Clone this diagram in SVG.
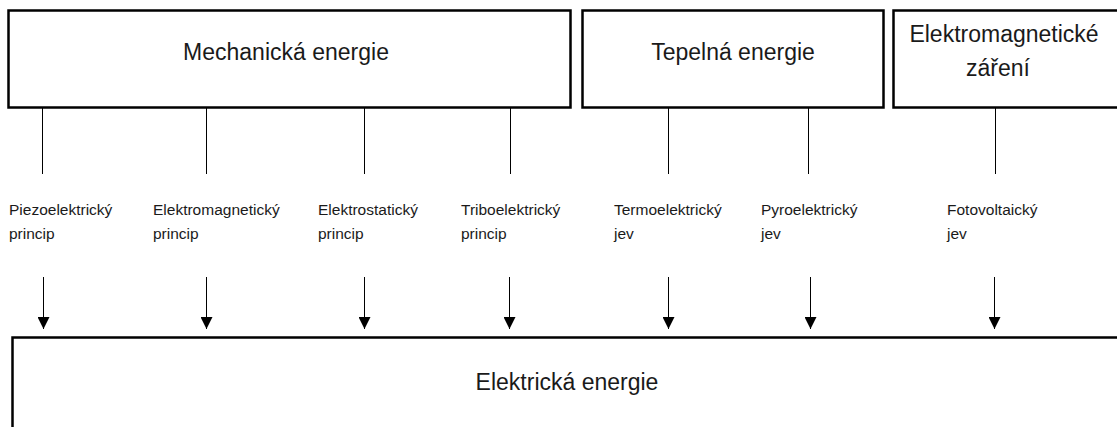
<svg xmlns="http://www.w3.org/2000/svg" width="1117" height="427" viewBox="0 0 1117 427">
<style>
.box{fill:#fff;stroke:#000;stroke-width:2.5}
.title{font-family:"Liberation Sans",Arial,sans-serif;font-size:23px;fill:#1a1a1a;text-anchor:middle}
.lbl{font-family:"Liberation Sans",Arial,sans-serif;font-size:15.5px;fill:#1a1a1a}
.ln{stroke:#000;stroke-width:1;fill:none}
</style>
<defs>
<marker id="ah" viewBox="0 0 12 12" refX="12" refY="6" markerWidth="12" markerHeight="12" markerUnits="userSpaceOnUse" orient="auto">
<path d="M0,0 L12,6 L0,12 Z" fill="#000"/>
</marker>
</defs>
<rect width="1117" height="427" fill="#fff"/>
<g id="mechanicka">
<rect class="box" x="8.5" y="10.5" width="562" height="97"/>
<text class="title" x="286" y="60">Mechanická energie</text>
</g>
<g id="tepelna">
<rect class="box" x="582.5" y="10.5" width="301" height="97"/>
<text class="title" x="733" y="60">Tepelná energie</text>
</g>
<g id="em-zareni">
<rect class="box" x="893.5" y="10.5" width="260" height="97"/>
<text class="title" x="1004" y="42">Elektromagnetické</text>
<text class="title" x="998" y="76">záření</text>
</g>
<g id="elektricka">
<rect class="box" x="12.5" y="337.5" width="1150" height="150"/>
<text class="title" x="567" y="390">Elektrická energie</text>
</g>
<g id="labels">
<text class="lbl" x="9" y="215">Piezoelektrický<tspan x="9" y="239">princip</tspan></text>
<text class="lbl" x="153" y="215">Elektromagnetický<tspan x="153" y="239">princip</tspan></text>
<text class="lbl" x="318" y="215">Elektrostatický<tspan x="318" y="239">princip</tspan></text>
<text class="lbl" x="461" y="215">Triboelektrický<tspan x="461" y="239">princip</tspan></text>
<text class="lbl" x="614" y="215">Termoelektrický<tspan x="614" y="239">jev</tspan></text>
<text class="lbl" x="761" y="215">Pyroelektrický<tspan x="761" y="239">jev</tspan></text>
<text class="lbl" x="947" y="215">Fotovoltaický<tspan x="947" y="239">jev</tspan></text>
</g>
<g id="connectors">
<path class="ln" d="M42.5,108 V174 M206.5,108 V174 M364.5,108 V174 M510.5,108 V174 M668.5,108 V174 M808.5,108 V174 M995.5,108 V174"/>
<path class="ln" marker-end="url(#ah)" d="M43.5,277 V329"/>
<path class="ln" marker-end="url(#ah)" d="M206.5,277 V329"/>
<path class="ln" marker-end="url(#ah)" d="M364.5,277 V329"/>
<path class="ln" marker-end="url(#ah)" d="M509.5,277 V329"/>
<path class="ln" marker-end="url(#ah)" d="M668.5,277 V329"/>
<path class="ln" marker-end="url(#ah)" d="M810.5,277 V329"/>
<path class="ln" marker-end="url(#ah)" d="M994.5,277 V329"/>
</g>
</svg>
